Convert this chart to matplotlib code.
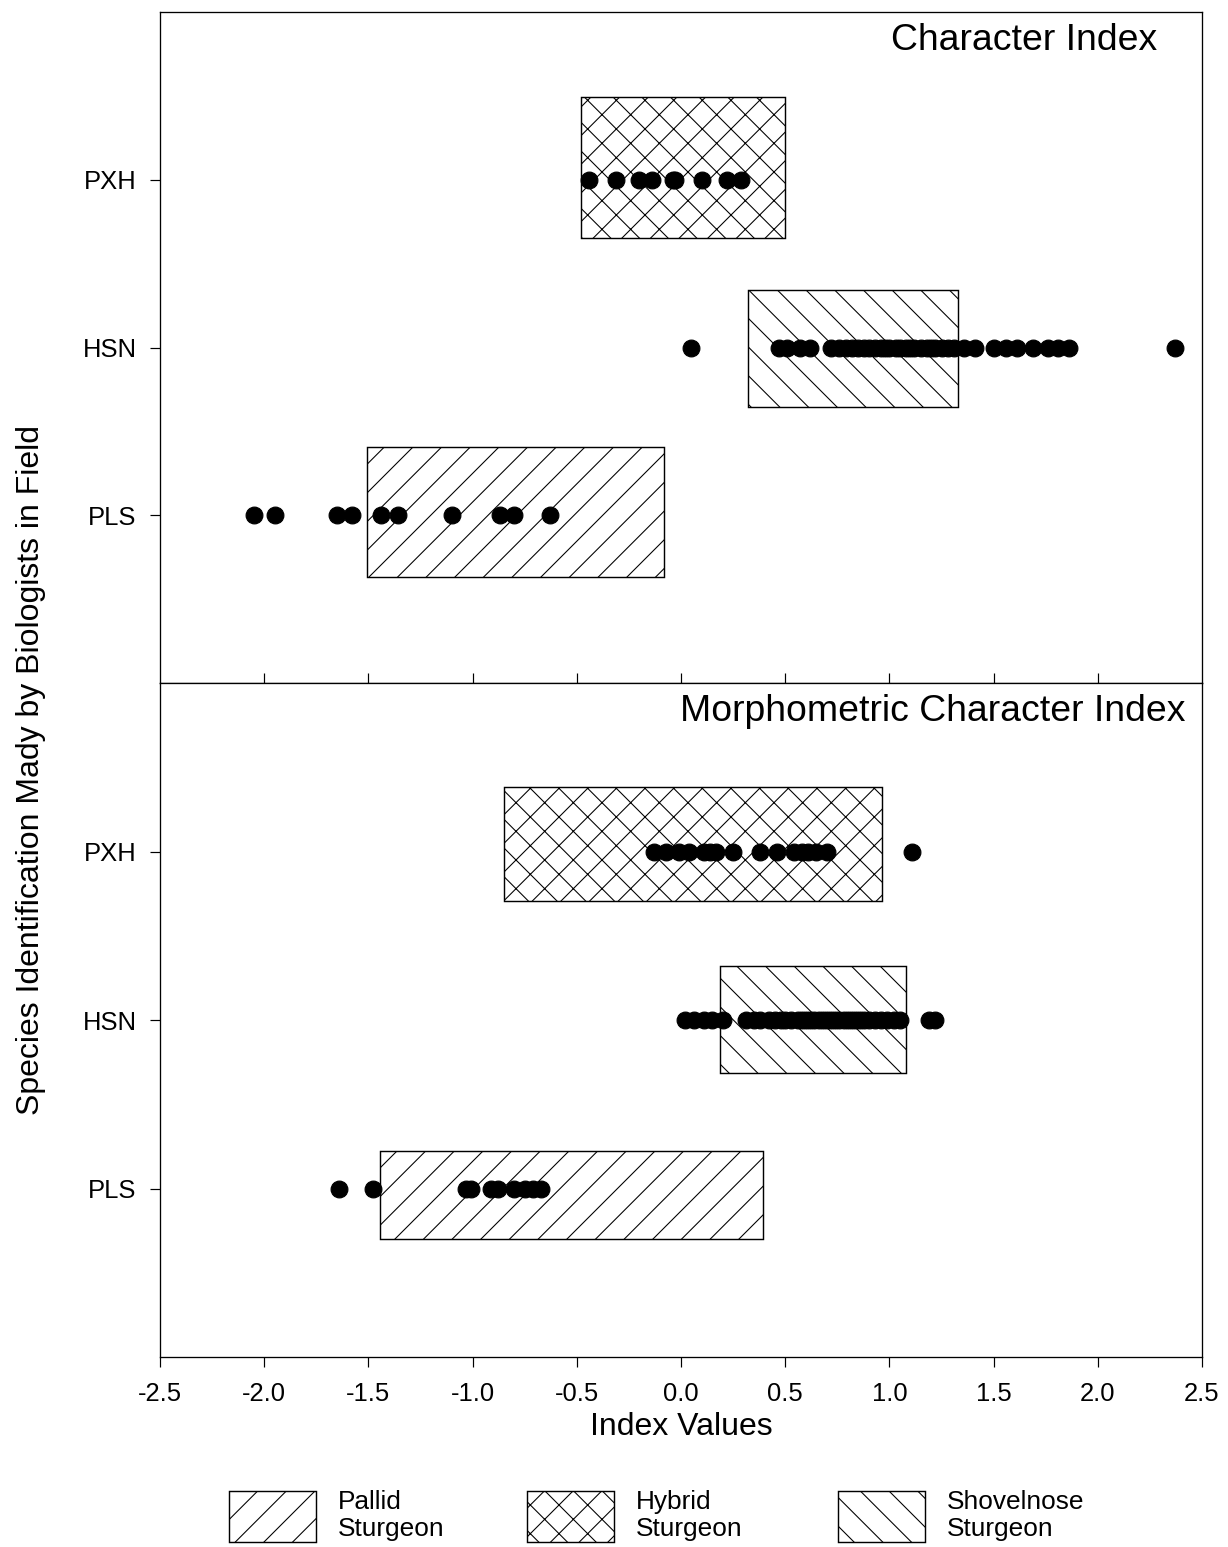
import matplotlib
matplotlib.use('Agg')
import matplotlib.pyplot as plt
from matplotlib.patches import Patch

plt.rcParams['font.family'] = ['Liberation Sans', 'DejaVu Sans']
plt.rcParams['hatch.linewidth'] = 0.9

# 类别位置
cats = ['PLS', 'HSN', 'PXH']
cat_pos = [1, 2, 3]
hatches = ['/', '\\', 'x']

# 上图 Character Index 的点
ci_pls = [-2.05, -1.95, -1.65, -1.58, -1.44, -1.36, -1.10, -0.87, -0.80, -0.63]
ci_hsn = [0.05, 0.47, 0.51, 0.57, 0.62, 0.72, 0.76, 0.79, 0.82, 0.85, 0.88, 0.90,
          0.93, 0.96, 0.98, 1.00, 1.03, 1.05, 1.08, 1.10, 1.12, 1.15, 1.18, 1.20,
          1.22, 1.25, 1.28, 1.31, 1.36, 1.41, 1.50, 1.56, 1.61, 1.69, 1.76, 1.81,
          1.86, 2.37]
ci_pxh = [-0.44, -0.31, -0.20, -0.14, -0.04, -0.03, 0.10, 0.22, 0.29]
# 上图方框 (x左, x右, y下, y上)
ci_box_x0 = [-1.505, 0.32, -0.48]
ci_box_x1 = [-0.08, 1.33, 0.50]
ci_box_y0 = [0.634, 1.645, 2.653]
ci_box_y1 = [1.409, 2.343, 3.493]

# 下图 Morphometric Character Index 的点
mci_pls = [-1.64, -1.48, -1.03, -1.01, -0.91, -0.88, -0.80, -0.75, -0.71, -0.67]
mci_hsn = [0.02, 0.06, 0.11, 0.15, 0.20, 0.31, 0.35, 0.38, 0.42, 0.45, 0.48, 0.50,
           0.53, 0.56, 0.58, 0.60, 0.62, 0.64, 0.66, 0.68, 0.70, 0.72, 0.74, 0.76,
           0.78, 0.80, 0.82, 0.84, 0.86, 0.88, 0.90, 0.93, 0.96, 0.99, 1.02, 1.05,
           1.19, 1.22]
mci_pxh = [-0.13, -0.07, -0.01, 0.04, 0.11, 0.14, 0.17, 0.25, 0.38, 0.46, 0.54,
           0.58, 0.61, 0.65, 0.70, 1.11]
mci_box_x0 = [-1.444, 0.187, -0.848]
mci_box_x1 = [0.392, 1.078, 0.963]
mci_box_y0 = [0.700, 1.687, 2.708]
mci_box_y1 = [1.223, 2.320, 3.385]

legend_labels = ['Pallid\nSturgeon', 'Hybrid\nSturgeon', 'Shovelnose\nSturgeon']
legend_hatches = ['/', 'x', '\\']
legend_left_px = [229, 527, 838]   # 图例方框左边位置

x_ticks = [-2.5, -2.0, -1.5, -1.0, -0.5, 0.0, 0.5, 1.0, 1.5, 2.0, 2.5]

DPI = 86
fig = plt.figure(figsize=(1228 / DPI, 1547 / DPI), dpi=DPI)
ax1 = fig.add_axes([160 / 1228, 1 - 683 / 1547, 1042 / 1228, 671 / 1547])
ax2 = fig.add_axes([160 / 1228, 1 - 1357 / 1547, 1042 / 1228, 674 / 1547])


def draw_panel(ax, pts, bx0, bx1, by0, by1, title, tx):
    for i in range(3):
        ax.bar(bx0[i], by1[i] - by0[i], width=bx1[i] - bx0[i], bottom=by0[i],
               align='edge', facecolor='white', edgecolor='black',
               hatch=hatches[i], linewidth=1.2, zorder=2)
        ax.plot(pts[i], [cat_pos[i]] * len(pts[i]), 'o', color='black',
                ms=14, zorder=3, clip_on=False)
    ax.set_xlim(-2.5, 2.5)
    ax.set_ylim(0, 4)
    ax.set_yticks(cat_pos)
    ax.set_yticklabels(cats)
    ax.tick_params(axis='y', direction='out', length=8, width=1, pad=11.5, labelsize=21.5)
    for s in ax.spines.values():
        s.set_linewidth(1.1)
    ax.text(tx, 0.943, title, transform=ax.transAxes, ha='right', va='baseline',
            fontsize=31.3)


draw_panel(ax1, [ci_pls, ci_hsn, ci_pxh], ci_box_x0, ci_box_x1, ci_box_y0, ci_box_y1,
           'Character Index', 0.957)
draw_panel(ax2, [mci_pls, mci_hsn, mci_pxh], mci_box_x0, mci_box_x1, mci_box_y0, mci_box_y1,
           'Morphometric Character Index', 0.984)

# 上图: 底部内刻度, 无标签
ax1.set_xticks(x_ticks[1:-1])
ax1.tick_params(axis='x', direction='in', length=8, width=1, labelbottom=False)
# 下图: 外刻度
ax2.set_xticks(x_ticks)
ax2.set_xticklabels(['%.1f' % t for t in x_ticks])
ax2.tick_params(axis='x', direction='out', length=8, width=1, pad=13, labelsize=21.5)

fig.text(681 / 1228, 1 - 1435 / 1547, 'Index Values', ha='center', va='baseline',
         fontsize=26.8)
fig.text(31 / 1228, 1 - 770 / 1547, 'Species Identification Mady by Biologists in Field',
         rotation=90, ha='center', va='center', fontsize=26.8)

# 图例: 每个单独放
for lab, h, px in zip(legend_labels, legend_hatches, legend_left_px):
    handle = Patch(facecolor='white', edgecolor='black', hatch=h, linewidth=1.2)
    leg = fig.legend([handle], [lab], frameon=False, loc='upper left',
                     bbox_to_anchor=(px / 1228, 1 - 1490 / 1547), borderpad=0,
                     borderaxespad=0, fontsize=22, handlelength=3.3, handleheight=2.61,
                     handletextpad=0.83)
    for t in leg.get_texts():
        t.set_linespacing(1.14)

fig.savefig('out.png', dpi=DPI)
